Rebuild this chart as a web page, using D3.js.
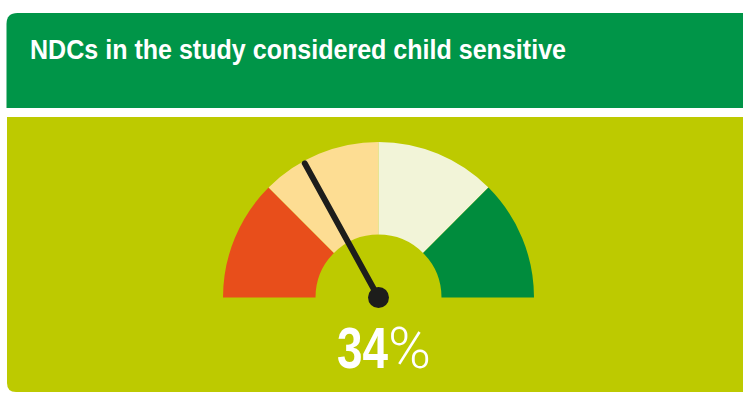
<!DOCTYPE html>
<html><head><meta charset="utf-8">
<script src="https://cdn.jsdelivr.net/npm/d3@7"></script>
<style>html,body{margin:0;padding:0;background:#fff;}svg{display:block;}</style>
</head><body>
<svg id="c" width="743" height="393"></svg>
<script>
const title = "NDCs in the study considered child sensitive";
const bands = ["Low", "Low-mid", "Mid-high", "High"];
const bandValues = [25, 25, 25, 25];
const bandColors = ["#e84e1b", "#fddd93", "#f2f4d8", "#008c3d"];
const needleValue = 34;
const valueLabel = "34";

const svg = d3.select("#c");

function roundedRect(x, y, w, h, rtl, rbl) {
  return `M${x+rtl},${y} H${x+w} V${y+h} H${x+rbl} Q${x},${y+h} ${x},${y+h-rbl} V${y+rtl} Q${x},${y} ${x+rtl},${y} Z`;
}
// header
svg.append("path").attr("d", roundedRect(6.5, 13, 737, 95, 11, 0)).attr("fill", "#009548");
// panel
svg.append("path").attr("d", roundedRect(7, 117, 736, 275, 0, 9)).attr("fill", "#bdca00");

svg.append("text").attr("x", 30).attr("y", 59)
  .attr("fill", "#fff").attr("font-family", "'Liberation Sans',Arial,sans-serif")
  .attr("font-weight", "bold").attr("font-size", 27.5).text(title)
  .attr("textLength", 536).attr("lengthAdjust", "spacingAndGlyphs");

// gauge
const cx = 378.5, cy = 297.5, rOut = 155.5, rIn = 63;
const scale = d3.scaleLinear().domain([0, 100]).range([-Math.PI/2, Math.PI/2]);
const pie = d3.pie().sort(null).startAngle(-Math.PI/2).endAngle(Math.PI/2)(bandValues);
const arc = d3.arc().innerRadius(rIn).outerRadius(rOut);
const g = svg.append("g").attr("transform", `translate(${cx},${cy})`);
g.selectAll("path.band").data(pie).join("path").attr("class", "band")
  .attr("d", arc).attr("fill", (d, i) => bandColors[i]);

const a = scale(needleValue), L = 153;
g.append("line").attr("x1", 0).attr("y1", 0)
  .attr("x2", L*Math.sin(a)).attr("y2", -L*Math.cos(a))
  .attr("stroke", "#1d1d1b").attr("stroke-width", 6).attr("stroke-linecap", "round");
g.append("circle").attr("r", 10.5).attr("fill", "#1d1d1b");

// value
const vt = svg.append("text").attr("x", 337).attr("y", 368).attr("fill", "#fff");
vt.append("tspan").attr("font-family", "'Liberation Sans',Arial,sans-serif")
  .attr("font-weight", "bold").attr("font-size", 57)
  .attr("textLength", 51).attr("lengthAdjust", "spacingAndGlyphs").text(valueLabel);
vt.append("tspan").attr("x", 388).attr("font-family", "Roboto,'Liberation Sans',sans-serif")
  .attr("font-weight", 300).attr("font-size", 58)
  .attr("textLength", 43).attr("lengthAdjust", "spacingAndGlyphs").text("%");
</script>
</body></html>
